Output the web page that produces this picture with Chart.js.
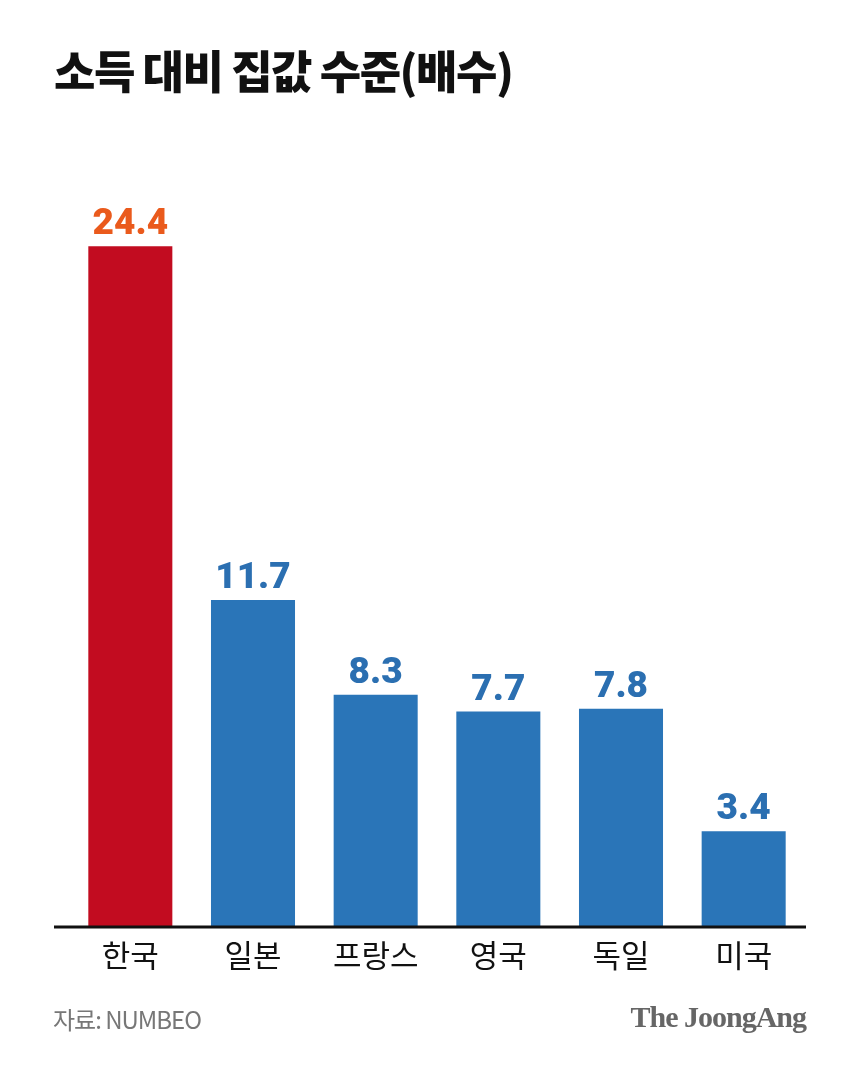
<!DOCTYPE html>
<html><head><meta charset="utf-8">
<script src="https://cdn.jsdelivr.net/npm/chart.js@4.4.1/dist/chart.umd.min.js"></script>
<style>
html,body{margin:0;padding:0;background:#fff;}
#wrap{position:relative;width:860px;height:1068px;overflow:hidden;}
#title{position:absolute;left:54px;top:43px;font-family:"Noto Sans CJK KR";font-weight:900;font-size:45px;letter-spacing:-1.5px;color:#111;line-height:1.2;}
#src{position:absolute;left:53px;top:1001px;font-family:"Noto Sans CJK KR";font-size:24px;color:#777;letter-spacing:-1px;}
#logo{position:absolute;right:54px;top:1000px;font-family:"Liberation Serif";font-weight:bold;font-size:30px;color:#666;letter-spacing:-1px;}
#c{position:absolute;left:0;top:0;}
</style></head>
<body><div id="wrap">
<canvas id="c" width="860" height="1068"></canvas>
<div id="title">소득 대비 집값 수준(배수)</div>
<div id="src">자료: NUMBEO</div>
<div id="logo">The JoongAng</div>
</div>
<script>
const categories = ["한국","일본","프랑스","영국","독일","미국"];
const values = [24.4, 11.7, 8.3, 7.7, 7.8, 3.4];
const barColors = ["#c20c20","#2a75b8","#2a75b8","#2a75b8","#2a75b8","#2a75b8"];
const labelColors = ["#ea5a1c","#2b6fb1","#2b6fb1","#2b6fb1","#2b6fb1","#2b6fb1"];

const valuePlugin = {
  id:'vals',
  afterDatasetsDraw(chart){
    const ctx = chart.ctx;
    const meta = chart.getDatasetMeta(0);
    ctx.save();
    ctx.font = '900 37px Roboto';
    ctx.textAlign = 'center';
    ctx.textBaseline = 'alphabetic';
    meta.data.forEach((bar,i)=>{
      ctx.fillStyle = labelColors[i];
      ctx.fillText(values[i].toFixed(1), bar.x, bar.y - 12);
    });
    const y0 = chart.scales.y.getPixelForValue(0);
    ctx.strokeStyle = '#111';
    ctx.lineWidth = 3;
    ctx.beginPath();
    ctx.moveTo(54, y0+1);
    ctx.lineTo(806, y0+1);
    ctx.stroke();
    ctx.restore();
  }
};

new Chart(document.getElementById('c'), {
  type:'bar',
  data:{labels:categories, datasets:[{data:values, backgroundColor:barColors, borderWidth:0, barPercentage:0.685, categoryPercentage:1}]},
  options:{
    responsive:false, animation:false,
    layout:{padding:{left:69, right:55, top:146, bottom:82}},
    plugins:{legend:{display:false}, tooltip:{enabled:false}},
    scales:{
      x:{grid:{display:false}, border:{display:false},
         ticks:{color:'#111', font:{family:'Noto Sans CJK KR', size:31}, padding:3},
         afterFit(s){ s.height = 60; }},
      y:{display:false, min:0, max:28}
    }
  },
  plugins:[valuePlugin]
});
</script>
</body></html>
